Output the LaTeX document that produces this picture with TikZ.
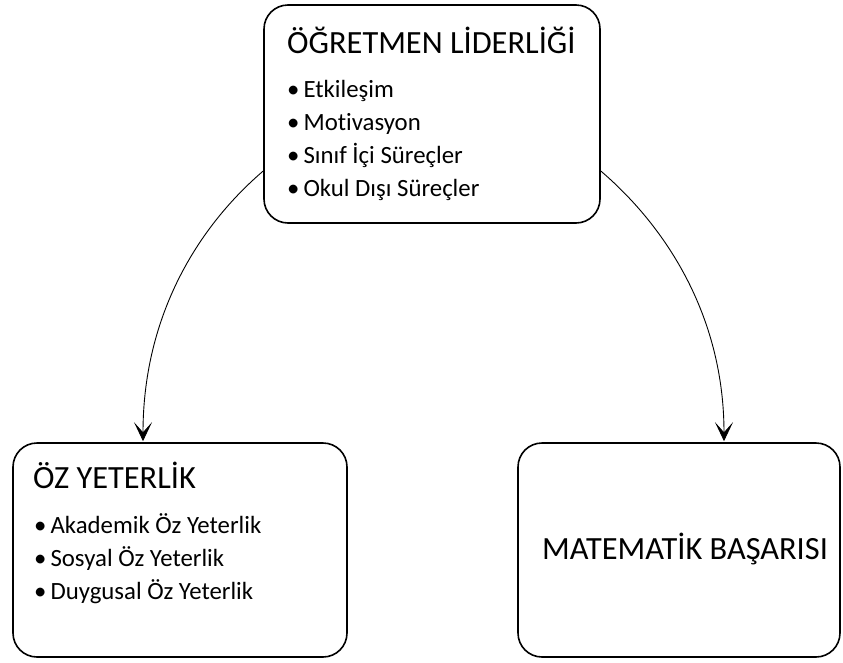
\documentclass[tikz,border=0pt]{standalone}
\usepackage{fontspec}
\setmainfont{Carlito}[Ligatures=NoCommon]
\usetikzlibrary{arrows.meta,positioning}

\begin{document}
\begin{tikzpicture}[x=1pt,y=-1pt]
        \tikzstyle{box}=[draw,line width=1.6pt,rounded corners=24pt,inner sep=0pt]
        \tikzstyle{head}=[anchor=base west,inner sep=0pt,font=\fontsize{32.4}{38}\selectfont]
        \tikzstyle{item}=[anchor=base west,inner sep=0pt,font=\fontsize{24.8}{29}\selectfont]
        \tikzstyle{link}=[-{Stealth[length=19pt,width=18pt,inset=10pt]},line width=0.9pt]
        \useasboundingbox (0,0) rectangle (843,662);

        % Top box
        \node[box,minimum width=336pt,minimum height=218pt] (lead) at (432,114) {};
        \node[head] (leadtitle) at (287,53) {ÖĞRETMEN LİDERLİĞİ};
        \foreach \t [count=\i] in {Etkileşim,Motivasyon,Sınıf İçi Süreçler,Okul Dışı Süreçler}
            \node[item] (leaditem\i) at (287,64+33*\i) {•\hspace{4pt}\t};

        % Bottom left box
        \node[box,minimum width=334pt,minimum height=214pt] (selfeff) at (180,550) {};
        \node[head] (selfefftitle) at (33,488) {ÖZ YETERLİK};
        \foreach \t [count=\i] in {Akademik Öz Yeterlik,Sosyal Öz Yeterlik,Duygusal Öz Yeterlik}
            \node[item] (selfeffitem\i) at (34,500+33*\i) {•\hspace{4pt}\t};

        % Bottom right box
        \node[box,minimum width=322pt,minimum height=214pt] (math) at (679,550) {};
        \node[head,anchor=base] (mathtitle) at (685,559) {MATEMATİK BAŞARISI};

        % --- Curved arrows ---
        \draw[link]
        ([yshift=-57pt]lead.west) .. controls +(-70,60) and +(0,-120) .. ([xshift=-37pt,yshift=1pt]selfeff.north);
        \draw[link]
        ([yshift=-57pt]lead.east) .. controls +(70,60) and +(0,-120) .. ([xshift=45pt,yshift=1pt]math.north);
    \end{tikzpicture}
\end{document}
